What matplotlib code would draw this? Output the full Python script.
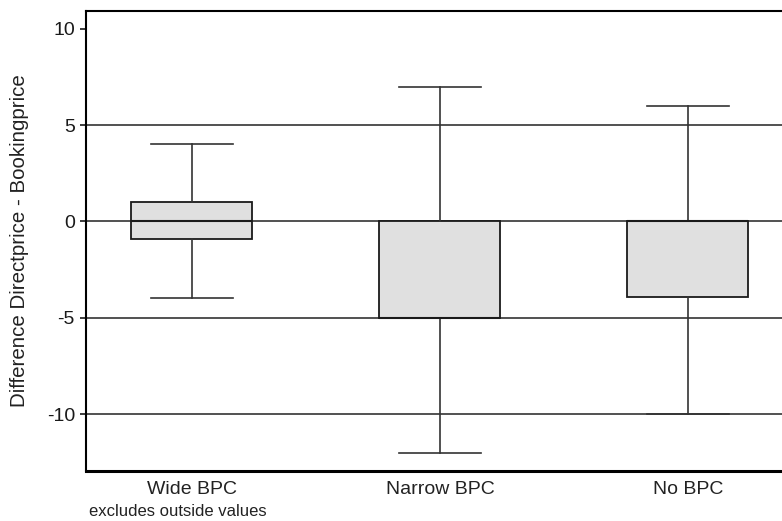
import matplotlib.pyplot as plt

# box statistics
groups = ["Wide BPC", "Narrow BPC", "No BPC"]
whisker_low = [-4, -12, -10]
q1 = [-0.9, -5, -3.9]
median = [0, -5, 0]
q3 = [1, 0, 0]
whisker_high = [4, 7, 6]

grid_levels = [5, 0, -5, -10]
y_ticks = [10, 5, 0, -5, -10]

plt.rcParams['font.family'] = ['Liberation Sans', 'DejaVu Sans']

W, H = 782, 521
fig = plt.figure(figsize=(W / 100, H / 100), dpi=100)
left, top, bottom, right = 86, 11, 471, 792
ax = fig.add_axes([left / W, 1 - bottom / H, (right - left) / W, (bottom - top) / H])

stats = []
for i, g in enumerate(groups):
    stats.append(dict(label=g, whislo=whisker_low[i], q1=q1[i], med=median[i],
                      q3=q3[i], whishi=whisker_high[i], fliers=[]))

positions = list(range(1, len(groups) + 1))

for lvl in grid_levels:
    ax.axhline(lvl, color='#333333', lw=1.2, zorder=1)

ax.bxp(stats, positions=positions, widths=0.488, patch_artist=True,
       showfliers=False,
       boxprops=dict(facecolor='#e0e0e0', edgecolor='#1a1a1a', linewidth=1.3),
       medianprops=dict(color='#1a1a1a', linewidth=1.5),
       whiskerprops=dict(color='#333333', linewidth=1.2),
       capprops=dict(color='#333333', linewidth=1.2),
       capwidths=0.33, zorder=3)

ax.set_xlim(0.573, 0.573 + (right - left) / 248)
ax.set_ylim(-12.96, 10.93)
ax.set_yticks(y_ticks)
ax.set_yticklabels([str(t) for t in y_ticks], fontsize=14, color='#222222')
ax.tick_params(axis='y', length=4.5, width=1.2, pad=3.5, colors='#1a1a1a')
ax.tick_params(axis='x', length=0, pad=7, labelsize=14, labelcolor='#222222')
ax.set_xticks(positions)
ax.set_xticklabels(groups)

fig.text(19.5 / W, 1 - 241 / H, "Difference Directprice - Bookingprice",
         fontsize=14.8, rotation=90, ha='center', va='center', color='#222222')

for s in ['top', 'left']:
    ax.spines[s].set_linewidth(1.5)
ax.spines['bottom'].set_linewidth(2.2)
ax.spines['right'].set_visible(False)

fig.text(178 / W, 1 - 512 / H, "excludes outside values", fontsize=12,
         ha='center', va='center', color='#222222')

fig.savefig('out.png', dpi=100)
